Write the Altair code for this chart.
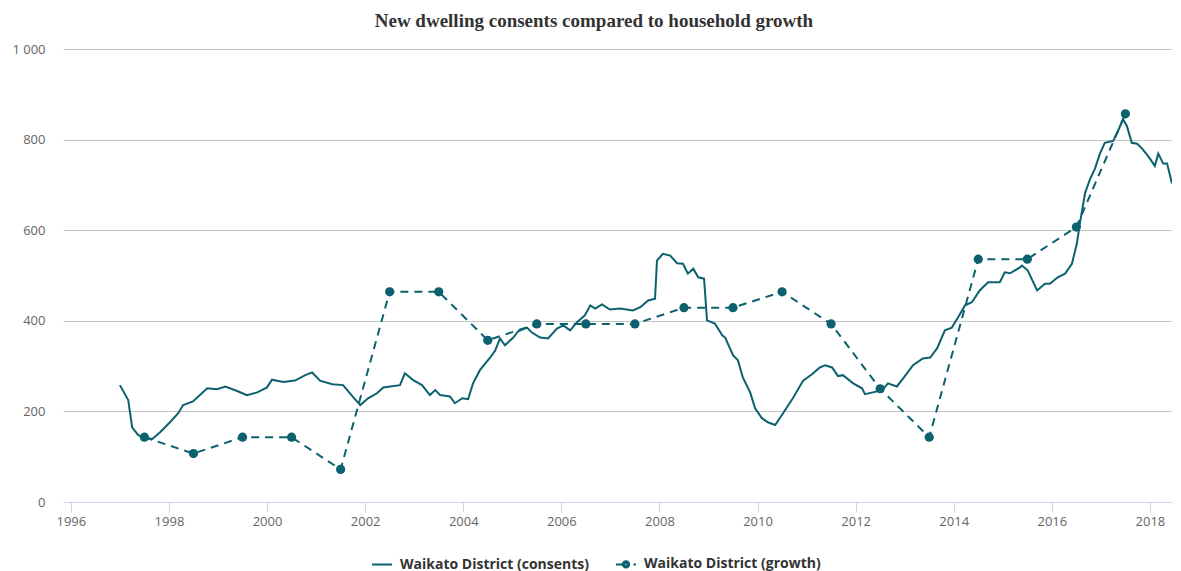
import altair as alt
import pandas as pd

TITLE = "New dwelling consents compared to household growth"
S_CONS = "Waikato District (consents)"
S_GROW = "Waikato District (growth)"

cons_year = [
    1997.00, 1997.17, 1997.25, 1997.37, 1997.47, 1997.66, 1997.82, 1998.02, 1998.19, 1998.29,
    1998.49, 1998.78, 1998.98, 1999.15, 1999.39, 1999.59, 1999.80, 2000.00, 2000.10, 2000.33,
    2000.57, 2000.78, 2000.92, 2001.08, 2001.33, 2001.55, 2001.76, 2001.90, 2002.06, 2002.24,
    2002.37, 2002.51, 2002.71, 2002.81, 2002.98, 2003.16, 2003.32, 2003.43, 2003.53, 2003.73,
    2003.83, 2003.98, 2004.10, 2004.20, 2004.34, 2004.55, 2004.65, 2004.75, 2004.85, 2005.02,
    2005.12, 2005.30, 2005.40, 2005.57, 2005.73, 2005.91, 2006.04, 2006.18, 2006.32, 2006.48,
    2006.59, 2006.69, 2006.83, 2006.99, 2007.20, 2007.46, 2007.61, 2007.77, 2007.91, 2007.95,
    2008.07, 2008.22, 2008.36, 2008.48, 2008.58, 2008.69, 2008.79, 2008.91, 2008.97, 2009.13,
    2009.28, 2009.34, 2009.50, 2009.60, 2009.70, 2009.85, 2009.95, 2010.09, 2010.21, 2010.36,
    2010.52, 2010.72, 2010.93, 2011.11, 2011.27, 2011.38, 2011.52, 2011.64, 2011.74, 2011.95,
    2012.13, 2012.19, 2012.35, 2012.54, 2012.66, 2012.84, 2012.97, 2013.17, 2013.37, 2013.52,
    2013.66, 2013.82, 2013.96, 2014.09, 2014.23, 2014.37, 2014.53, 2014.70, 2014.94, 2015.04,
    2015.15, 2015.35, 2015.39, 2015.51, 2015.70, 2015.86, 2015.96, 2016.12, 2016.27, 2016.41,
    2016.51, 2016.57, 2016.68, 2016.78, 2016.88, 2016.98, 2017.08, 2017.25, 2017.35, 2017.45,
    2017.53, 2017.63, 2017.74, 2017.84, 2017.96, 2018.10, 2018.17, 2018.27, 2018.35, 2018.45,
]
cons_value = [
    258, 225, 165, 148, 143, 139, 154, 176, 196, 214,
    222, 251, 249, 255, 245, 236, 242, 253, 270, 265,
    268, 280, 286, 268, 260, 258, 231, 214, 229, 240,
    253, 255, 258, 284, 269, 258, 236, 247, 236, 233,
    218, 229, 227, 262, 291, 319, 334, 361, 346, 363,
    377, 385, 374, 363, 361, 383, 390, 379, 397, 412,
    434, 427, 436, 425, 427, 423, 430, 445, 449, 533,
    548, 544, 527, 526, 504, 515, 496, 493, 401, 394,
    368, 363, 324, 313, 275, 242, 207, 185, 176, 170,
    196, 229, 268, 282, 297, 302, 297, 278, 280, 262,
    251, 238, 242, 247, 262, 255, 273, 302, 317, 319,
    339, 379, 385, 408, 434, 441, 467, 485, 485, 507,
    505, 518, 522, 511, 467, 482, 482, 496, 504, 526,
    570, 614, 683, 713, 736, 769, 793, 797, 819, 845,
    830, 793, 791, 780, 764, 742, 769, 747, 747, 703,
]

grow_year = [
    1997.5, 1998.5, 1999.5, 2000.5, 2001.5, 2002.5, 2003.5, 2004.5, 2005.5, 2006.5, 2007.5,
    2008.5, 2009.5, 2010.5, 2011.5, 2012.5, 2013.5, 2014.5, 2015.5, 2016.5, 2017.5,
]
grow_value = [
    143, 107, 143, 143, 72, 464, 464, 357, 393, 393, 393,
    429, 429, 464, 393, 250, 143, 536, 536, 607, 857,
]

x_ticks = [1996, 1998, 2000, 2002, 2004, 2006, 2008, 2010, 2012, 2014, 2016, 2018]
y_ticks = [0, 200, 400, 600, 800, 1000]

TEAL = "#0b616e"
FONT = "Open Sans"
# legend glyphs: a plain stroke, and a dash / dot / dash (dot drawn as concentric rings)
PATH_LINE = "M-1,0H1"
PATH_DOT = (
    "M-1,0H-0.4M0.75,0H1"
    "M0.32,0A0.32,0.32,0,1,1,-0.32,0A0.32,0.32,0,1,1,0.32,0"
    "M0.17,0A0.17,0.17,0,1,1,-0.17,0A0.17,0.17,0,1,1,0.17,0"
    "M0.04,0A0.04,0.04,0,1,1,-0.04,0A0.04,0.04,0,1,1,0.04,0"
)

cons = pd.DataFrame({"year": cons_year, "value": cons_value, "series": S_CONS})
grow = pd.DataFrame({"year": grow_year, "value": grow_value, "series": S_GROW})
both = pd.concat([cons, grow], ignore_index=True)

x = alt.X(
    "year:Q",
    scale=alt.Scale(domain=[1995.84, 2018.45], nice=False, zero=False),
    axis=alt.Axis(
        values=x_ticks, format="d", title=None, grid=False,
        domainColor="#ccd6eb", domainWidth=1, tickColor="#ccd6eb", tickSize=10,
        labelPadding=3, labelFont=FONT, labelFontSize=13, labelColor="#666666",
        labelFlush=False, labelOverlap=False,
    ),
)
y = alt.Y(
    "value:Q",
    scale=alt.Scale(domain=[0, 1000], nice=False),
    axis=alt.Axis(
        values=y_ticks, title=None, grid=True, gridColor="#c4c4c4", gridWidth=1,
        domain=False, ticks=False, labelPadding=18, labelFont=FONT, labelFontSize=13,
        labelColor="#666666", labelExpr="replace(format(datum.value, ','), ',', ' ')",
    ),
)

line_cons = alt.Chart(cons).mark_line(color=TEAL, strokeWidth=2).encode(x=x, y=y)
line_grow = alt.Chart(grow).mark_line(color=TEAL, strokeWidth=2, strokeDash=[8, 6]).encode(x=x, y=y)
pts_grow = alt.Chart(grow).mark_point(filled=True, color=TEAL, opacity=1, size=85).encode(x=x, y=y)

legend_layer = alt.Chart(both).mark_point(
    filled=False, opacity=0, color=TEAL, strokeWidth=2
).encode(
    x=x,
    y=y,
    shape=alt.Shape(
        "series:N",
        scale=alt.Scale(domain=[S_CONS, S_GROW], range=[PATH_LINE, PATH_DOT]),
        legend=alt.Legend(
            title=None, orient="none", legendX=308, legendY=504, direction="horizontal",
            symbolSize=400, labelOffset=7, columnPadding=22, padding=0, labelLimit=400,
            labelFont=FONT, labelFontSize=14, labelFontWeight="bold", labelColor="#333333",
            symbolStrokeColor=TEAL, symbolStrokeWidth=2, symbolOpacity=1,
        ),
    ),
)

chart = alt.layer(line_cons, line_grow, pts_grow, legend_layer).properties(
    width=1109,
    height=453,
    padding={"left": 55, "top": 41, "right": 0, "bottom": 70},
    autosize=alt.AutoSizeParams(type="none"),
    title=alt.TitleParams(
        TITLE, font="Liberation Serif", fontSize=19, fontWeight="bold", color="#333333",
        anchor="middle", frame="bounds", offset=12,
    ),
).configure_view(stroke=None)

chart.save("out.html", embed_options={"renderer": "svg", "actions": False})
